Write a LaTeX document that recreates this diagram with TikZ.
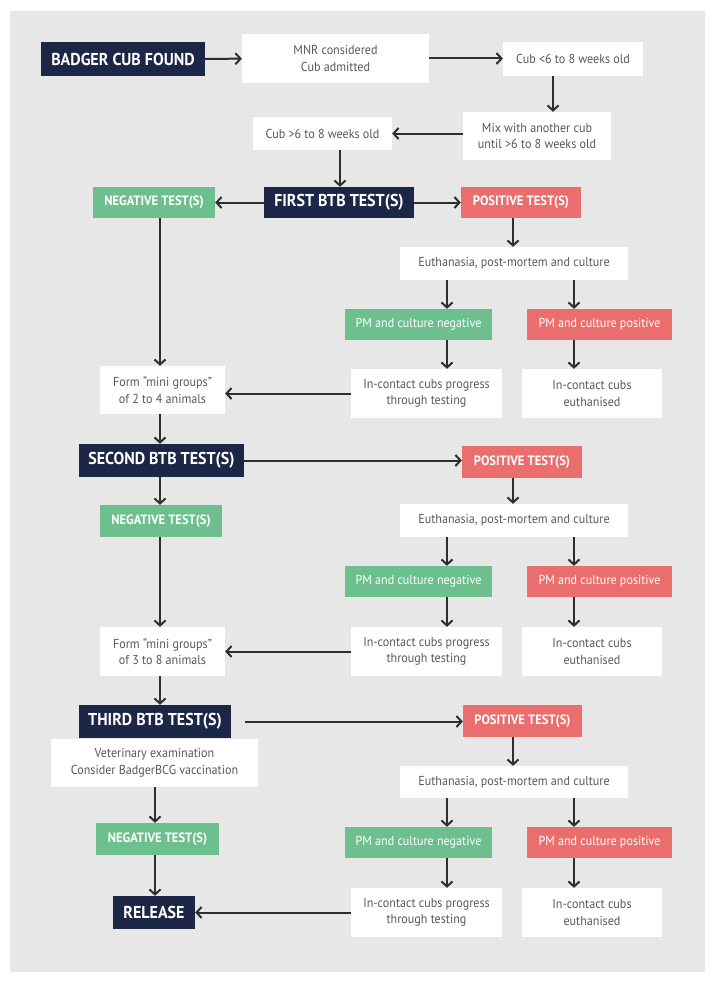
\documentclass[tikz,border=0pt]{standalone}
\usepackage{fontspec}
\setmainfont{PT Sans}[FakeStretch=0.93]
\usetikzlibrary{arrows.meta,calc}
\definecolor{navy}{HTML}{1C2646}
\definecolor{grn}{HTML}{6DBF8E}
\definecolor{rd}{HTML}{EB6E6E}
\definecolor{bggray}{HTML}{E7E7E7}
\definecolor{txtgray}{HTML}{595959}
\definecolor{arr}{HTML}{2E2E2E}
\tikzset{
  bx/.style={inner sep=0pt, align=center, font=\fontsize{13}{16.5}\selectfont},
  whitebox/.style={bx, fill=white, text=txtgray},
  navybox/.style={bx, fill=navy, text=white, font=\fontsize{17.2}{20}\selectfont\bfseries},
  greenbox/.style={bx, fill=grn, text=white},
  redbox/.style={bx, fill=rd, text=white},
  boldlbl/.style={font=\fontsize{13.5}{16}\selectfont\bfseries},
  arrow/.style={draw=arr, line width=2pt, -{Straight Barb[length=5pt,width=11pt,line width=2pt]}},
}
\newcommand{\bxat}[7]{%
  \node[#6, minimum width={#4-#2}, minimum height={#5-#3}] (#1) at ({(#2+#4)/2},{(#3+#5)/2}) {#7};}
\begin{document}
\begin{tikzpicture}[x=1pt,y=-1pt]
\useasboundingbox (0,0) rectangle (713,982);
\fill[white] (0,0) rectangle (713,982);
\fill[bggray] (10,11) rectangle (705,972);

% row 1
\bxat{badger}{41}{42}{205}{76}{navybox}{BADGER CUB FOUND}
\bxat{mnr}{242}{34}{429}{83}{whitebox}{MNR considered\\Cub admitted}
\bxat{cubl}{503}{42}{643}{76}{whitebox}{Cub <6 to 8 weeks old}
\bxat{mix}{463}{112}{611}{160}{whitebox}{Mix with another cub\\until >6 to 8 weeks old}
\bxat{cubg}{253}{117}{392}{150}{whitebox}{Cub >6 to 8 weeks old}

% first test
\bxat{first}{264}{187}{414}{218}{navybox}{FIRST BTB TEST(S)}
\bxat{neg1}{93}{187}{215}{218}{greenbox,boldlbl}{NEGATIVE TEST(S)}
\bxat{pos1}{461}{187}{581}{218}{redbox,boldlbl}{POSITIVE TEST(S)}
\bxat{euth1}{400}{247}{628}{280}{whitebox}{Euthanasia, post-mortem and culture}
\bxat{pmn1}{345}{309}{492}{340}{greenbox}{PM and culture negative}
\bxat{pmp1}{527}{309}{672}{340}{redbox}{PM and culture positive}
\bxat{icp1}{351}{369}{502}{418}{whitebox}{In-contact cubs progress\\through testing}
\bxat{ice1}{522}{369}{662}{418}{whitebox}{In-contact cubs\\euthanised}
\bxat{form1}{100}{366}{225}{414}{whitebox}{Form ``mini groups''\\of 2 to 4 animals}

% second test
\bxat{second}{79}{444}{244}{477}{navybox}{SECOND BTB TEST(S)}
\bxat{pos2}{462}{446}{582}{478}{redbox,boldlbl}{POSITIVE TEST(S)}
\bxat{neg2}{100}{505}{222}{537}{greenbox,boldlbl}{NEGATIVE TEST(S)}
\bxat{euth2}{400}{504}{628}{537}{whitebox}{Euthanasia, post-mortem and culture}
\bxat{pmn2}{345}{566}{492}{597}{greenbox}{PM and culture negative}
\bxat{pmp2}{527}{566}{672}{597}{redbox}{PM and culture positive}
\bxat{icp2}{351}{627}{502}{676}{whitebox}{In-contact cubs progress\\through testing}
\bxat{ice2}{522}{627}{662}{676}{whitebox}{In-contact cubs\\euthanised}
\bxat{form2}{100}{627}{225}{676}{whitebox}{Form ``mini groups''\\of 3 to 8 animals}

% third test
\bxat{third}{79}{705}{231}{738}{navybox}{THIRD BTB TEST(S)}
\bxat{pos3}{463}{705}{582}{737}{redbox,boldlbl}{POSITIVE TEST(S)}
\bxat{vet}{51}{739}{258}{787}{whitebox}{Veterinary examination\\Consider BadgerBCG vaccination}
\bxat{euth3}{400}{766}{628}{798}{whitebox}{Euthanasia, post-mortem and culture}
\bxat{neg3}{96}{823}{219}{855}{greenbox,boldlbl}{NEGATIVE TEST(S)}
\bxat{pmn3}{345}{827}{492}{858}{greenbox}{PM and culture negative}
\bxat{pmp3}{527}{827}{672}{858}{redbox}{PM and culture positive}
\bxat{release}{113}{896}{195}{929}{navybox}{RELEASE}
\bxat{icp3}{351}{888}{502}{937}{whitebox}{In-contact cubs progress\\through testing}
\bxat{ice3}{522}{888}{662}{937}{whitebox}{In-contact cubs\\euthanised}

% arrow columns
\coordinate (xA) at (553,0);
\coordinate (xB) at (340,0);
\coordinate (xC) at (513,0);
\coordinate (xD) at (447,0);
\coordinate (xE) at (574,0);
\coordinate (xL) at (160,0);
\coordinate (xM) at (155,0);

% top flow
\draw[arrow] (badger) -- (mnr);
\draw[arrow] (mnr.east) -- (cubl.west |- mnr.east);
\draw[arrow] (cubl.south -| xA) -- (mix.north -| xA);
\draw[arrow] (mix.west |- cubg.east) -- (cubg.east);
\draw[arrow] (cubg.south -| xB) -- (first.north -| xB);
\draw[arrow] (first) -- (neg1);
\draw[arrow] (first) -- (pos1);

% positive branch 1
\draw[arrow] (pos1.south -| xC) -- (euth1.north -| xC);
\draw[arrow] (euth1.south -| xD) -- (pmn1.north -| xD);
\draw[arrow] (euth1.south -| xE) -- (pmp1.north -| xE);
\draw[arrow] (pmn1.south -| xD) -- (icp1.north -| xD);
\draw[arrow] (pmp1.south -| xE) -- (ice1.north -| xE);
\draw[arrow] (icp1.west) -- (form1.east |- icp1.west);
\draw[arrow] (neg1.south -| xL) -- (form1.north -| xL);
\draw[arrow] (form1.south -| xL) -- (second.north -| xL);

% second
\draw[arrow] (second.east) -- (pos2.west |- second.east);
\draw[arrow] (second.south -| xL) -- (neg2.north -| xL);
\draw[arrow] (pos2.south -| xC) -- (euth2.north -| xC);
\draw[arrow] (euth2.south -| xD) -- (pmn2.north -| xD);
\draw[arrow] (euth2.south -| xE) -- (pmp2.north -| xE);
\draw[arrow] (pmn2.south -| xD) -- (icp2.north -| xD);
\draw[arrow] (pmp2.south -| xE) -- (ice2.north -| xE);
\draw[arrow] (icp2.west) -- (form2.east |- icp2.west);
\draw[arrow] (neg2.south -| xL) -- (form2.north -| xL);
\draw[arrow] (form2.south -| xL) -- (third.north -| xL);

% third
\draw[arrow] ([xshift=14pt]third.east) -- (pos3.west |- third.east);
\draw[arrow] (pos3.south -| xC) -- (euth3.north -| xC);
\draw[arrow] (euth3.south -| xD) -- (pmn3.north -| xD);
\draw[arrow] (euth3.south -| xE) -- (pmp3.north -| xE);
\draw[arrow] (pmn3.south -| xD) -- (icp3.north -| xD);
\draw[arrow] (pmp3.south -| xE) -- (ice3.north -| xE);
\draw[arrow] (vet.south -| xM) -- (neg3.north -| xM);
\draw[arrow] (neg3.south -| xM) -- (release.north -| xM);
\draw[arrow] (icp3.west) -- (release.east |- icp3.west);
\end{tikzpicture}
\end{document}
